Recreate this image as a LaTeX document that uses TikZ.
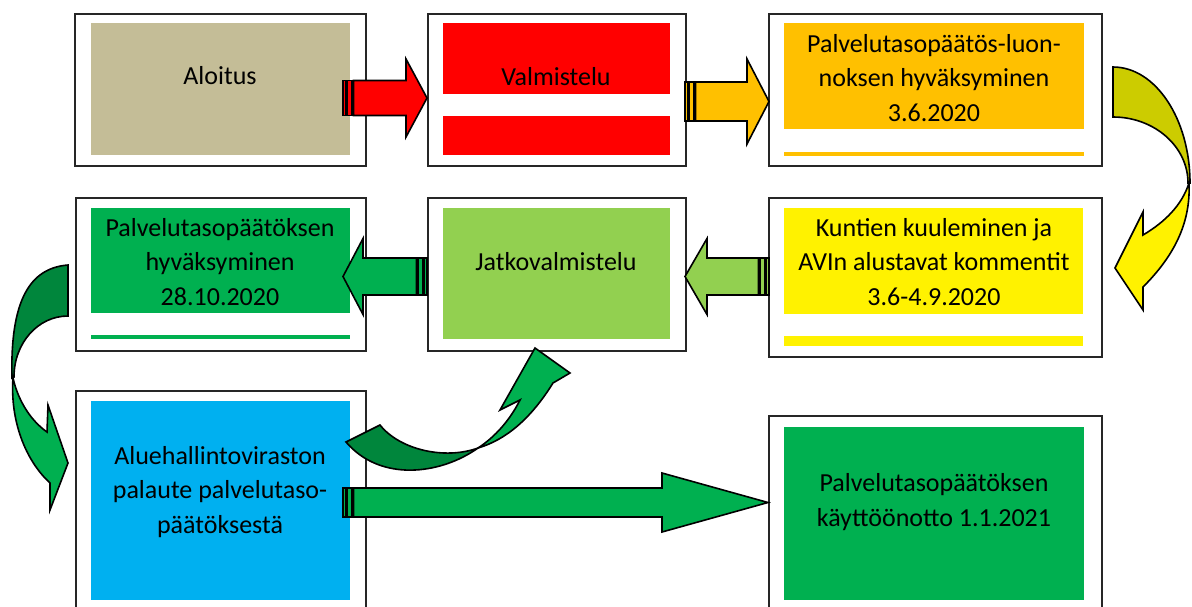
\documentclass[tikz,border=0pt]{standalone}
\usepackage{fontspec}
\setmainfont{Carlito}
\usetikzlibrary{calc}

\definecolor{khaki}{RGB}{196,189,151}
\definecolor{orangey}{RGB}{255,192,0}
\definecolor{lightgreen}{RGB}{146,208,80}
\definecolor{midgreen}{RGB}{0,176,80}
\definecolor{darkgreen}{RGB}{0,134,60}
\definecolor{skyblue}{RGB}{0,176,240}
\definecolor{olivey}{RGB}{204,204,0}

% striped block arrow: colour, tail x, head base x, tip x, centre y, shaft half, head half, direction
\newcommand{\striparrow}[8]{%
  \draw[arrowline, fill=#1] ({#2},{#5-#6}) rectangle ({#2+3*#8},{#5+#6});
  \draw[arrowline, fill=#1] ({#2+4.5*#8},{#5-#6}) rectangle ({#2+9*#8},{#5+#6});
  \draw[arrowline, fill=#1] ({#2+10.5*#8},{#5-#6}) -- ({#3},{#5-#6}) -- ({#3},{#5-#7})
    -- ({#4},{#5}) -- ({#3},{#5+#7}) -- ({#3},{#5+#6}) -- ({#2+10.5*#8},{#5+#6}) -- cycle;
}

\begin{document}
\begin{tikzpicture}[x=1pt,y=-1pt,
    frame/.style={draw=black!85, line width=2pt, fill=white, anchor=north west, inner sep=0pt},
    boxtext/.style={align=center, font=\fontsize{26}{34.5}\selectfont, inner sep=0pt},
    arrowline/.style={draw=black, line width=1.6pt, line join=miter}]
    \useasboundingbox (0,0) rectangle (1192,606);
    \clip (0,0) rectangle (1192,606);

    % Draw the frames
    \node[frame, minimum width=291pt, minimum height=152pt] (aloitus) at (74,13) {};
    \node[frame, minimum width=258pt, minimum height=152pt] (valmistelu) at (427,13) {};
    \node[frame, minimum width=333pt, minimum height=152pt] (luonnos) at (768,13) {};
    \node[frame, minimum width=290pt, minimum height=153pt] (hyvaksyminen) at (75,197) {};
    \node[frame, minimum width=258pt, minimum height=153pt] (jatko) at (427,197) {};
    \node[frame, minimum width=333pt, minimum height=159pt] (kuuleminen) at (768,197) {};
    \node[frame, minimum width=290pt, minimum height=240pt] (palaute) at (75,390) {};
    \node[frame, minimum width=333pt, minimum height=215pt] (kayttoonotto) at (768,415) {};

    % Fill the coloured panels
    \fill[khaki] (91,23) rectangle (350,155);
    \fill[red] (443,23) rectangle (670,94);
    \fill[red] (443,116) rectangle (670,155);
    \fill[orangey] (784,23) rectangle (1084,129);
    \fill[orangey] (784,152) rectangle (1084,156);
    \fill[midgreen] (91,208) rectangle (350,313);
    \fill[midgreen] (91,335) rectangle (350,339);
    \fill[lightgreen] (443,208) rectangle (670,339);
    \fill[yellow] (784,208) rectangle (1083,314);
    \fill[yellow] (784,336) rectangle (1083,346);
    \fill[skyblue] (91,401) rectangle (350,600);
    \fill[midgreen] (784,427) rectangle (1084,600);

    % Texts
    \node[boxtext] (aloitus-t) at (220,76) {Aloitus};
    \node[boxtext] (valmistelu-t) at (556,77) {Valmistelu};
    \node[boxtext] (luonnos-t) at (934,78) {Palvelutasopäätös-luon-\\noksen hyväksyminen\\3.6.2020};
    \node[boxtext] (hyvaksyminen-t) at (220,262) {Palvelutasopäätöksen\\hyväksyminen\\28.10.2020};
    \node[boxtext] (jatko-t) at (556,262) {Jatkovalmistelu};
    \node[boxtext] (kuuleminen-t) at (934,262) {Kuntien kuuleminen ja\\AVIn alustavat kommentit\\3.6-4.9.2020};
    \node[boxtext] (palaute-t) at (220,492) {Aluehallintoviraston\\palaute palvelutaso-\\päätöksestä};
    \node[boxtext] (kayttoonotto-t) at (934,502) {Palvelutasopäätöksen\\käyttöönotto 1.1.2021};

    % Straight block arrows
    \striparrow{red}{343}{406}{427}{98}{17.5}{39}{1}
    \striparrow{orangey}{685}{747}{769}{101.5}{19.5}{42.5}{1}
    \striparrow{lightgreen}{769}{707}{685}{276.5}{18.5}{38}{-1}
    \striparrow{midgreen}{427}{363}{343}{276.5}{18.5}{38}{-1}
    \striparrow{midgreen}{343}{662}{768}{502.5}{14.5}{29.5}{1}

    % Curved arrow on the right
    \draw[arrowline, fill=olivey] (1113,67) .. controls (1155.5,67) and (1190,119) .. (1190,183)
        -- (1188,183) .. controls (1188,146.6) and (1154.4,117) .. (1113,117) -- cycle;
    \draw[arrowline, fill=yellow] (1189,183) .. controls (1182,205) and (1165,222) .. (1143,235)
        -- (1143,212) -- (1115,268) -- (1143,310) -- (1143,287)
        .. controls (1172,258) and (1191,225) .. (1189,183) -- cycle;

    % Curved arrow on the left
    \draw[arrowline, fill=darkgreen] (68,265) .. controls (30,268) and (10,300) .. (12,378)
        -- (14,377) .. controls (14,343) and (38,316) .. (68,316) -- cycle;
    \draw[arrowline, fill=midgreen] (13,378) .. controls (18,400) and (30,420) .. (47,432)
        -- (48,405) -- (68,463) -- (50,510) -- (50,483)
        .. controls (25,460) and (10,420) .. (13,378) -- cycle;

    % Curved arrow back up to Jatkovalmistelu
    \draw[arrowline, fill=darkgreen] (346,442) -- (380,425)
        .. controls (400,450) and (445,460) .. (478,448)
        .. controls (440,475) and (380,482) .. (346,442) -- cycle;
    \draw[arrowline, fill=midgreen] (478,448) .. controls (495,437) and (510,420) .. (520,400)
        -- (500,410) -- (535,348) -- (570,373) -- (553,383)
        .. controls (530,420) and (505,440) .. (478,448) -- cycle;
\end{tikzpicture}
\end{document}
